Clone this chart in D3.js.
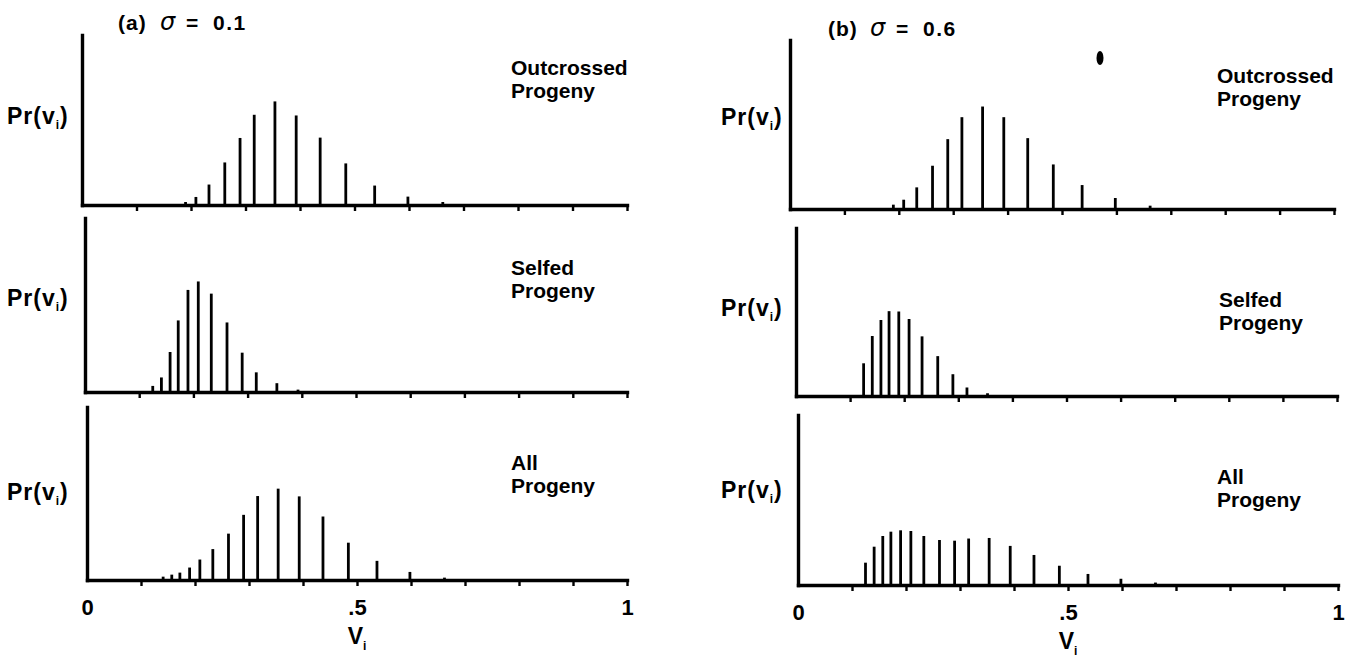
<!DOCTYPE html>
<html><head><meta charset="utf-8">
<script src="https://cdn.jsdelivr.net/npm/d3@7"></script>
<style>
html,body{margin:0;padding:0;background:#fff;}
svg{display:block;}
text{font-family:"Liberation Sans",Arial,Helvetica,sans-serif;fill:#000;}
</style></head><body>
<svg id="chart" width="1356" height="660"></svg>
<script>
// ---- data ----
const vGrid = [0.125,0.141,0.157,0.172,0.190,0.209,0.233,0.262,0.290,0.316,0.354,0.393,0.437,0.484,0.537,0.598,0.662];
const outcrossedA = [0,0,0,0,0.0053,0.0142,0.0361,0.0751,0.1183,0.1592,0.1828,0.1580,0.1189,0.0734,0.0343,0.0148,0.0053];
const selfedA     = [0.0105,0.0251,0.0690,0.1234,0.1760,0.1906,0.1696,0.1199,0.0678,0.0339,0.0152,0.0041,0,0,0,0,0];
const allA        = [0,0.0058,0.0093,0.0128,0.0216,0.0355,0.0536,0.0804,0.1130,0.1456,0.1584,0.1450,0.1101,0.0647,0.0332,0.0140,0.0041];
const outcrossedB = [0,0,0,0,0.0077,0.0165,0.0384,0.0768,0.1240,0.1630,0.1819,0.1630,0.1258,0.0791,0.0425,0.0195,0.0059];
const selfedB     = [0.0584,0.1071,0.1357,0.1515,0.1509,0.1375,0.1065,0.0712,0.0389,0.0152,0.0049,0.0018,0,0,0,0,0];
const allB        = [0.0394,0.0676,0.0865,0.0941,0.0965,0.0953,0.0865,0.0794,0.0782,0.0820,0.0830,0.0690,0.0530,0.0340,0.0195,0.0110,0.0043];
const xTicks = [0.1,0.2,0.3,0.4,0.5,0.6,0.7,0.8,0.9,1.0];
const xLabelValues = [0,0.5,1];
const xTickLabels = ["0",".5","1"];
const panelLetters = ["(a)","(b)"];
const sigmaValues = ["0.1","0.6"];
const seriesLabels = [["Outcrossed","Progeny"],["Selfed","Progeny"],["All","Progeny"]];
const yMax = 0.3;

// ---- layout ----
const panels = [
  {col:0,row:0,data:outcrossedA,x0:82, x1:627, top:35, base:205, prY:124, lblX:511, lblY:75},
  {col:0,row:1,data:selfedA,    x0:85, x1:627, top:218,base:392, prY:306, lblX:511, lblY:275},
  {col:0,row:2,data:allA,       x0:87, x1:627, top:407,base:580, prY:500, lblX:511, lblY:470},
  {col:1,row:0,data:outcrossedB,x0:790,x1:1334,top:40, base:209, prY:125, lblX:1217,lblY:83},
  {col:1,row:1,data:selfedB,    x0:796,x1:1337,top:228,base:396, prY:316, lblX:1219,lblY:307},
  {col:1,row:2,data:allB,       x0:798,x1:1338,top:415,base:585, prY:498, lblX:1217,lblY:484}
];
const prX = [7, 721];
const titlePos = [{x:118,y:30},{x:828,y:36}];
const titleOffsets = [0,42,68,95];

const svg = d3.select("#chart");
svg.append("rect").attr("width",1356).attr("height",660).attr("fill","#fff");

panels.forEach(p => {
  const g = svg.append("g");
  const x = d3.scaleLinear().domain([0,1]).range([p.x0,p.x1]);
  const y = d3.scaleLinear().domain([0,yMax]).range([p.base,p.top]);

  // bars
  const pts = vGrid.map((v,i)=>({v, pr:p.data[i]})).filter(d=>d.pr>0);
  g.selectAll("line.bar").data(pts).enter().append("line")
    .attr("class","bar")
    .attr("x1",d=>x(d.v)).attr("x2",d=>x(d.v))
    .attr("y1",y(0)).attr("y2",d=>y(d.pr))
    .attr("stroke","#000").attr("stroke-width",2.8);

  // x axis
  const xa = g.append("g").attr("transform",`translate(0,${p.base})`)
    .call(d3.axisBottom(x).tickValues(xTicks).tickSize(6).tickSizeOuter(0).tickFormat(""));
  xa.select(".domain").attr("stroke","#000").attr("stroke-width",3.4).attr("stroke-linecap","square");
  xa.selectAll(".tick line").attr("stroke","#000").attr("stroke-width",2.4);

  // y axis
  const ya = g.append("g").attr("transform",`translate(${p.x0},0)`)
    .call(d3.axisLeft(y).tickValues([]).tickSizeOuter(0));
  ya.select(".domain").attr("stroke","#000").attr("stroke-width",3.4).attr("stroke-linecap","square");

  // y label Pr(v_i)
  const pr = g.append("text").attr("x",prX[p.col]).attr("y",p.prY)
    .attr("font-size",23).attr("font-weight","bold").attr("letter-spacing",1);
  pr.append("tspan").text("Pr(v");
  pr.append("tspan").text("i").attr("font-size",12).attr("dy",5);
  pr.append("tspan").text(")").attr("dy",-5);

  // series label
  const sl = g.append("text").attr("font-size",21).attr("font-weight","bold");
  seriesLabels[p.row].forEach((t,i)=>{
    sl.append("tspan").attr("x",p.lblX).attr("y",p.lblY + i*22.5).text(t);
  });

  // bottom row: tick labels and axis title
  if (p.row === 2) {
    const la = g.append("g").attr("transform",`translate(0,${p.base})`)
      .call(d3.axisBottom(x).tickValues(xLabelValues).tickSize(0).tickPadding(19)
        .tickFormat((d,i)=>xTickLabels[i]));
    la.select(".domain").remove();
    la.selectAll("text").attr("font-size",22).attr("font-weight","bold")
      .attr("font-family","'Liberation Sans',Arial,sans-serif").attr("fill","#000");
    const vt = g.append("text").attr("x",x(0.5)).attr("y",p.base+64)
      .attr("text-anchor","middle").attr("font-size",23).attr("font-weight","bold");
    vt.append("tspan").text("V");
    vt.append("tspan").text("i").attr("font-size",12).attr("dy",6);
  }
});

// panel titles
panelLetters.forEach((L,c)=>{
  const t = svg.append("text").attr("y",titlePos[c].y).attr("font-size",21).attr("font-weight","bold");
  t.append("tspan").attr("x",titlePos[c].x+titleOffsets[0]).attr("letter-spacing",1).text(L);
  t.append("tspan").attr("x",titlePos[c].x+titleOffsets[1]).attr("font-style","italic")
    .attr("font-weight","normal").attr("font-size",24).attr("font-family","'DejaVu Sans',sans-serif").text("σ");
  t.append("tspan").attr("x",titlePos[c].x+titleOffsets[2]).text("=");
  t.append("tspan").attr("x",titlePos[c].x+titleOffsets[3]).attr("letter-spacing",1.5).text(sigmaValues[c]);
});

// ink spot from the scanned original
svg.append("ellipse").attr("cx",1100).attr("cy",58).attr("rx",3.5).attr("ry",7).attr("fill","#000");
</script>
</body></html>
